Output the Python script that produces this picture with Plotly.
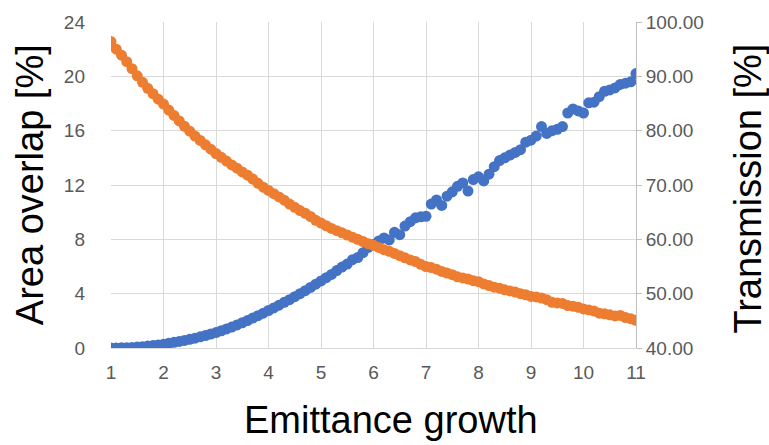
import plotly.graph_objects as go

x_vals = [round(1 + i * 0.1, 1) for i in range(101)]

area_overlap = [
    0.00, 0.00, 0.01, 0.02, 0.04, 0.07, 0.10, 0.14, 0.18, 0.23,
    0.28, 0.35, 0.42, 0.48, 0.56, 0.64, 0.72, 0.82, 0.92, 1.03,
    1.14, 1.27, 1.40, 1.54, 1.70, 1.86, 2.02, 2.20, 2.38, 2.56,
    2.76, 2.95, 3.15, 3.36, 3.56, 3.78, 4.00, 4.22, 4.46, 4.70,
    4.94, 5.18, 5.42, 5.70, 5.96, 6.18, 6.50, 6.66, 7.02, 7.40,
    7.62, 7.88, 8.10, 7.96, 8.52, 8.34, 8.98, 9.30, 9.58, 9.66,
    9.70, 10.60, 10.90, 10.50, 11.18, 11.50, 11.90, 12.15, 11.55, 12.40,
    12.60, 12.30, 12.80, 13.35, 13.80, 14.00, 14.20, 14.40, 14.60, 15.15,
    15.30, 15.60, 16.30, 15.80, 16.00, 16.10, 16.30, 17.30, 17.60, 17.45,
    17.30, 18.05, 18.10, 18.50, 18.90, 19.00, 19.15, 19.40, 19.50, 19.60,
    20.20,
]

transmission = [
    96.40, 95.00, 93.90, 92.70, 91.40, 90.10, 88.90, 87.80, 86.80, 85.80,
    84.90, 83.80, 82.80, 81.80, 80.80, 79.90, 79.00, 78.20, 77.40, 76.60,
    75.80, 75.10, 74.40, 73.70, 73.10, 72.40, 71.80, 71.10, 70.30, 69.60,
    69.00, 68.40, 67.80, 67.20, 66.50, 65.90, 65.30, 64.80, 64.20, 63.50,
    63.00, 62.50, 62.00, 61.60, 61.20, 60.80, 60.40, 60.00, 59.60, 59.20,
    58.90, 58.50, 58.10, 57.80, 57.40, 57.00, 56.60, 56.20, 55.90, 55.40,
    55.00, 54.80, 54.50, 54.10, 53.80, 53.50, 53.10, 52.90, 52.70, 52.40,
    52.20, 51.80, 51.50, 51.20, 51.00, 50.70, 50.50, 50.30, 50.00, 49.80,
    49.50, 49.40, 49.20, 48.90, 48.40, 48.30, 48.20, 47.80, 47.70, 47.50,
    47.20, 47.00, 46.80, 46.40, 46.30, 46.10, 45.90, 46.00, 45.60, 45.40,
    45.10,
]

x_ticks = list(range(1, 12))
left_ticks = [0, 4, 8, 12, 16, 20, 24]
right_ticks = [40, 50, 60, 70, 80, 90, 100]

BLUE = "#4472C4"
ORANGE = "#ED7D31"
GRID = "#D9D9D9"
TICKC = "#595959"
FONT = "Liberation Sans"
TICKSIZE = 19
TITLESIZE = 38

fig = go.Figure()
fig.add_trace(go.Scatter(
    x=x_vals, y=area_overlap, mode="markers", yaxis="y",
    marker=dict(color=BLUE, size=11, line=dict(width=0)),
    name="Area overlap", showlegend=False,
))
fig.add_trace(go.Scatter(
    x=x_vals, y=transmission, mode="markers", yaxis="y2",
    marker=dict(color=ORANGE, size=11, line=dict(width=0)),
    name="Transmission", showlegend=False,
))

fig.update_layout(
    width=769, height=445,
    margin=dict(l=111, r=133, t=16, b=97),
    paper_bgcolor="white", plot_bgcolor="white",
    font=dict(family=FONT, size=TICKSIZE, color=TICKC),
    xaxis=dict(
        range=[1, 11], tickvals=x_ticks, showgrid=True, gridcolor=GRID, gridwidth=1,
        zeroline=False, showline=True, linecolor=GRID, linewidth=1,
        ticks="", ticklabelstandoff=7,
        tickfont=dict(family=FONT, size=TICKSIZE, color=TICKC),
    ),
    yaxis=dict(
        range=[0, 24], tickvals=left_ticks, showgrid=True, gridcolor=GRID, gridwidth=1,
        zeroline=False, showline=False, ticks="", ticklabelstandoff=25,
        tickfont=dict(family=FONT, size=TICKSIZE, color=TICKC),
    ),
    yaxis2=dict(
        range=[40, 100], tickvals=right_ticks, tickformat=".2f", overlaying="y", side="right",
        showgrid=False, zeroline=False, showline=True, linecolor="#BFBFBF", linewidth=1,
        ticks="outside", ticklen=5, tickcolor="#BFBFBF", ticklabelstandoff=0,
        tickfont=dict(family=FONT, size=TICKSIZE, color=TICKC),
    ),
    annotations=[
        dict(text="Emittance growth", xref="paper", yref="paper", x=0.534, y=-0.22,
             xanchor="center", yanchor="middle", showarrow=False,
             font=dict(family=FONT, size=TITLESIZE, color="black")),
        dict(text="Area overlap [%]", xref="paper", yref="paper", x=-0.154, y=0.5,
             xanchor="center", yanchor="middle", textangle=-90, showarrow=False,
             font=dict(family=FONT, size=TITLESIZE, color="black")),
        dict(text="Transmission [%]", xref="paper", yref="paper", x=1.214, y=0.49,
             xanchor="center", yanchor="middle", textangle=-90, showarrow=False,
             font=dict(family=FONT, size=TITLESIZE, color="black")),
    ],
)

fig.write_html("out.html", config={"displayModeBar": False},
               post_script="document.body.style.margin='0';")
